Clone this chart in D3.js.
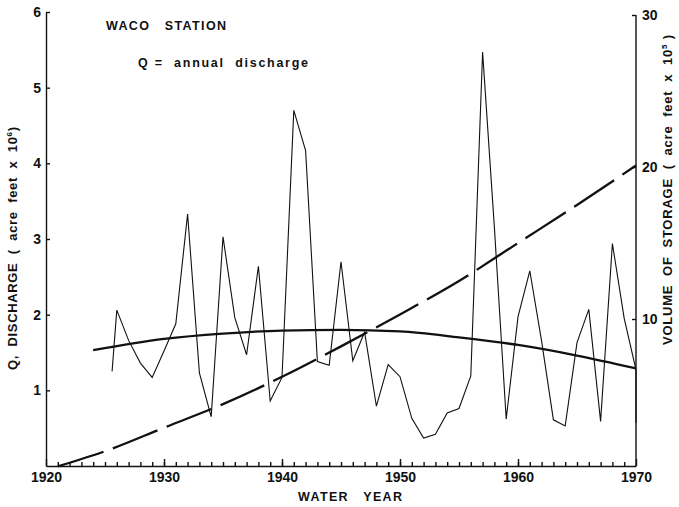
<!DOCTYPE html>
<meta charset="utf-8">
<style>
body { margin: 0; background: #fff; }
svg { font-family: "Liberation Sans", Arial, sans-serif; font-weight: bold; }
.axis path, .axis line { stroke: #111; stroke-width: 1.4; }
.axis text { font-size: 14px; font-weight: bold; fill: #111; }
.label { fill: #111; }
</style>
<body>
<script src="https://cdn.jsdelivr.net/npm/d3@7"></script>
<script>

// annual discharge, acre feet x 10^6 (left axis)
var qYears = [1925.6, 1926, 1927, 1928, 1929, 1930, 1931, 1932, 1933, 1934, 1935, 1936, 1937, 1938, 1939,
              1940, 1941, 1942, 1943, 1944, 1945, 1946, 1947, 1948, 1949, 1950, 1951, 1952, 1953, 1954,
              1955, 1956, 1957, 1958, 1959, 1960, 1961, 1962, 1963, 1964, 1965, 1966, 1967, 1968, 1969,
              1970, 1970];
var qValues = [1.25, 2.06, 1.66, 1.36, 1.17, 1.52, 1.88, 3.33, 1.23, 0.65, 3.03, 1.96, 1.47, 2.64, 0.86,
               1.17, 4.70, 4.17, 1.38, 1.33, 2.70, 1.39, 1.77, 0.79, 1.34, 1.18, 0.63, 0.37, 0.42, 0.70,
               0.76, 1.19, 5.47, 3.15, 0.62, 1.97, 2.58, 1.65, 0.61, 0.53, 1.63, 2.07, 0.59, 2.94, 1.95,
               1.27, 0.57];

// fitted trend of discharge (left axis)
var trendYears = [1924, 1930, 1935, 1940, 1945, 1950, 1955, 1960, 1965, 1970];
var trendValues = [1.53, 1.68, 1.75, 1.79, 1.80, 1.78, 1.70, 1.60, 1.46, 1.29];

// volume of storage, acre feet x 10^5 (right axis)
var storYears = [1921, 1925, 1930, 1935, 1940, 1945, 1950, 1955, 1960, 1965, 1970];
var storValues = [0.3, 1.3, 2.85, 4.4, 6.2, 8.2, 10.3, 12.5, 15.0, 17.5, 20.1];

var leftTicks = [1, 2, 3, 4, 5, 6],
    rightTicks = [10, 20, 30],
    decades = [1920, 1930, 1940, 1950, 1960, 1970];

var width = 679, height = 507;

var x = d3.scaleLinear().domain([1920, 1970]).range([46, 636]);
var yQ = d3.scaleLinear().domain([0, 6]).range([466, 12]);
var yS = d3.scaleLinear().domain([0, 30]).range([471, 15]);

var svg = d3.select("body").append("svg")
    .attr("width", width)
    .attr("height", height);

// bottom axis: every year minor, decades major
svg.append("g")
    .attr("class", "axis")
    .attr("transform", "translate(0," + yQ(0) + ")")
    .call(d3.axisBottom(x).tickValues(d3.range(1921, 1970)).tickSize(-4).tickSizeOuter(0).tickFormat(""))
  .select(".domain").attr("stroke-width", 1.8);

svg.append("g")
    .attr("class", "axis")
    .attr("transform", "translate(0," + yQ(0) + ")")
    .call(d3.axisBottom(x).tickValues(decades).tickSize(-7).tickSizeOuter(0).tickPadding(6).tickFormat(d3.format("d")))
  .select(".domain").remove();

// left axis
svg.append("g")
    .attr("class", "axis")
    .attr("transform", "translate(" + x(1920) + ",0)")
    .call(d3.axisLeft(yQ).tickValues(leftTicks).tickSize(-4).tickSizeOuter(0).tickPadding(5).tickFormat(d3.format("d")));

// right axis
var right = svg.append("g")
    .attr("class", "axis")
    .attr("transform", "translate(" + x(1970) + ",0)")
    .call(d3.axisRight(yS).tickValues(rightTicks).tickSize(-4).tickSizeOuter(0).tickPadding(6).tickFormat(d3.format("d")));
right.select(".domain").remove();
right.append("line")
    .attr("y1", yQ(0)).attr("y2", yS(30));

// discharge series
var qData = qYears.map(function(d, i) { return [d, qValues[i]]; });
svg.append("path")
    .datum(qData)
    .attr("fill", "none")
    .attr("stroke", "#111")
    .attr("stroke-width", 1.1)
    .attr("d", d3.line()
        .x(function(d) { return x(d[0]); })
        .y(function(d) { return yQ(d[1]); }));

// trend
svg.append("path")
    .datum(trendYears.map(function(d, i) { return [d, trendValues[i]]; }))
    .attr("fill", "none")
    .attr("stroke", "#111")
    .attr("stroke-width", 2.3)
    .attr("d", d3.line()
        .curve(d3.curveMonotoneX)
        .x(function(d) { return x(d[0]); })
        .y(function(d) { return yQ(d[1]); }));

// storage
svg.append("path")
    .datum(storYears.map(function(d, i) { return [d, storValues[i]]; }))
    .attr("fill", "none")
    .attr("stroke", "#111")
    .attr("stroke-width", 2.3)
    .attr("stroke-dasharray", "48,10")
    .attr("d", d3.line()
        .curve(d3.curveMonotoneX)
        .x(function(d) { return x(d[0]); })
        .y(function(d) { return yS(d[1]); }));

// titles
svg.append("text")
    .attr("class", "label")
    .attr("x", 106).attr("y", 30)
    .attr("font-size", 12.5)
    .attr("textLength", 120)
    .attr("lengthAdjust", "spacing")
    .attr("xml:space", "preserve")
    .text("WACO   STATION");

svg.append("text")
    .attr("class", "label")
    .attr("x", 138).attr("y", 67)
    .attr("font-size", 12.5)
    .attr("textLength", 170)
    .attr("lengthAdjust", "spacing")
    .attr("xml:space", "preserve")
    .text("Q =  annual  discharge");

svg.append("text")
    .attr("class", "label")
    .attr("x", 298).attr("y", 501)
    .attr("font-size", 12.5)
    .attr("textLength", 104)
    .attr("lengthAdjust", "spacing")
    .attr("xml:space", "preserve")
    .text("WATER   YEAR");

// left axis title
var lt = svg.append("text")
    .attr("class", "label")
    .attr("transform", "translate(17,370) rotate(-90)")
    .attr("font-size", 13)
    .attr("textLength", 243)
    .attr("lengthAdjust", "spacing")
    .attr("xml:space", "preserve");
lt.append("tspan").text("Q,  DISCHARGE  (  acre  feet  x  10");
lt.append("tspan").attr("font-size", 8).attr("dy", -5).text("6");
lt.append("tspan").attr("dy", 5).text(")");

// right axis title
var rt = svg.append("text")
    .attr("class", "label")
    .attr("transform", "translate(672,345) rotate(-90)")
    .attr("font-size", 13)
    .attr("textLength", 310)
    .attr("lengthAdjust", "spacing")
    .attr("xml:space", "preserve");
rt.append("tspan").text("VOLUME  OF  STORAGE  (  acre  feet  x  10");
rt.append("tspan").attr("font-size", 8).attr("dy", -5).text("5");
rt.append("tspan").attr("dy", 5).text(" )");

</script>
